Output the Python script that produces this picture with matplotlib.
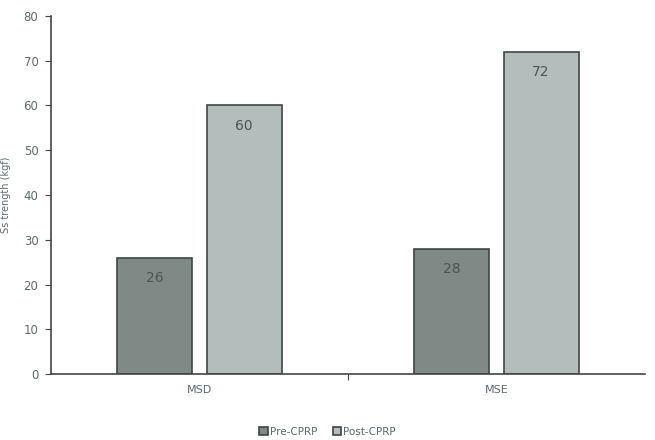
import matplotlib
matplotlib.use("Agg")
import matplotlib.pyplot as plt
import numpy as np

categories = ["MSD", "MSE"]
series_names = ["Pre-CPRP", "Post-CPRP"]
pre_values = [26, 28]
post_values = [60, 72]
yticks = [0, 10, 20, 30, 40, 50, 60, 70, 80]

plt.rcParams['font.family'] = ['DejaVu Sans']
fig = plt.figure(figsize=(6.55, 4.40), dpi=100)
ax = fig.add_axes([51/655, 1 - 374/440, 594/655, (374-16)/440])

x = np.arange(len(categories))
w = 0.2525
off = 0.15
txt = '#4a5555'
tick_col = '#5a6a70'
b1 = ax.bar(x - off, pre_values, w, color='#7f8a87', edgecolor='#3f4545', linewidth=1.2, label=series_names[0])
b2 = ax.bar(x + off, post_values, w, color='#b3bdbb', edgecolor='#3f4545', linewidth=1.2, label=series_names[1])
for bars, vals in ((b1, pre_values), (b2, post_values)):
    for r, v in zip(bars, vals):
        ax.text(r.get_x() + r.get_width()/2, v - 3.0, str(v), ha='center', va='top',
                fontsize=10, color=txt)

ax.set_xlim(-0.5, 1.5)
ax.set_ylim(0, 80)
ax.set_yticks(yticks)
ax.set_xticks([0.5], minor=False)
ax.set_xticks([0, 1], minor=True)
ax.set_xticklabels([""])
ax.set_xticklabels(categories, minor=True)
ax.tick_params(axis='x', which='minor', length=0, labelsize=8, labelcolor=tick_col, pad=8)
ax.tick_params(axis='x', which='major', length=4, direction='out', color='#444444')
ax.tick_params(axis='y', labelsize=8.5, labelcolor=tick_col, length=4, direction='out', color='#444444', pad=5)
for s in ['top', 'right']:
    ax.spines[s].set_visible(False)
for s in ['left', 'bottom']:
    ax.spines[s].set_color('#444444')
    ax.spines[s].set_linewidth(1.2)
ax.set_ylabel("Ss trength (kgf)", fontsize=7, color=tick_col, labelpad=9)

fig.legend(handles=[b1, b2], labels=series_names, loc='center', bbox_to_anchor=(0.5, 1 - 432/440),
           ncol=2, frameon=False, fontsize=7.5, labelcolor=tick_col, handlelength=0.8, handleheight=0.8,
           handletextpad=0.2, columnspacing=1.5)

fig.savefig("out.png", dpi=100)
